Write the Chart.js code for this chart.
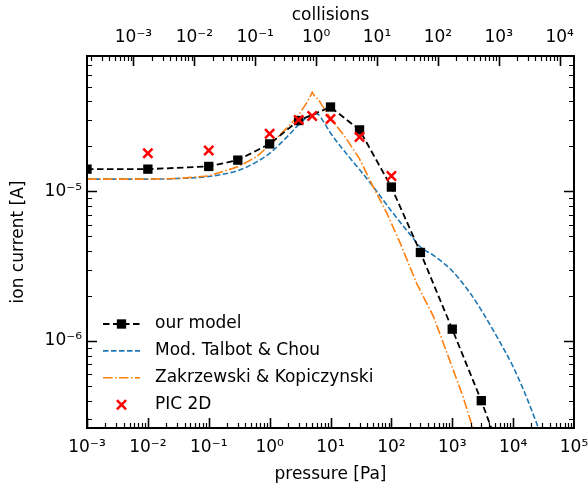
<!DOCTYPE html>
<html lang="en">
<head>
<meta charset="UTF-8">
<title>Ion current vs pressure</title>
<script src="https://cdn.jsdelivr.net/npm/chart.js@4.4.0/dist/chart.umd.min.js"></script>
<style>
  body { margin: 0; background: #fff; }
</style>
</head>
<body>
<canvas id="ionChart" width="588" height="489"></canvas>
<script>
// values: pressure [Pa] -> ion current [A]
const modelPressure = [1e-3, 1e-2, 0.1, 0.3, 1, 3, 10, 30, 100, 300, 1000, 3000, 10000];
const modelCurrent  = [1.41e-5, 1.41e-5, 1.47e-5, 1.62e-5, 2.08e-5, 2.98e-5, 3.67e-5, 2.58e-5, 1.07e-5, 3.91e-6, 1.2e-6, 3.99e-7, 1.05e-7];

const talbotPressure = [1e-3, 3e-3, 1e-2, 3e-2, 0.1, 0.3, 0.6, 1, 2, 3, 4.5, 6, 8, 10, 20, 30, 50, 100, 200, 300, 500, 1000, 2000, 3000, 5000, 1e4, 1.5e4, 2e4, 3e4, 5e4];
const talbotCurrent  = [1.21e-5, 1.21e-5, 1.21e-5, 1.22e-5, 1.26e-5, 1.38e-5, 1.57e-5, 1.8e-5, 2.35e-5, 2.8e-5, 3.2e-5, 3.3e-5, 2.85e-5, 2.46e-5, 1.71e-5, 1.4e-5, 1.08e-5, 7.4e-6, 5.2e-6, 4.25e-6, 3.72e-6, 2.94e-6, 2.07e-6, 1.61e-6, 1.13e-6, 6.73e-7, 4.65e-7, 3.47e-7, 2.2e-7, 1e-7];

const zakPressure = [1e-3, 1e-2, 3e-2, 0.1, 0.3, 0.6, 1, 2, 3, 4.2, 5, 5.7, 6.3, 7, 10, 18, 30, 50, 85, 140, 260, 490, 900, 1500, 2150, 3000];
const zakCurrent  = [1.21e-5, 1.21e-5, 1.22e-5, 1.27e-5, 1.46e-5, 1.7e-5, 2.04e-5, 2.7e-5, 3.25e-5, 4.0e-5, 4.6e-5, 4.25e-5, 4.15e-5, 3.85e-5, 3.1e-5, 2.27e-5, 1.65e-5, 1.08e-5, 7.1e-6, 4.5e-6, 2.43e-6, 1.46e-6, 7.5e-7, 4.25e-7, 2.67e-7, 1.7e-7];

const picPressure = [0.01, 0.1, 1, 3, 5, 10, 30, 100];
const picCurrent  = [1.8e-5, 1.88e-5, 2.43e-5, 3.01e-5, 3.2e-5, 3.05e-5, 2.31e-5, 1.27e-5];

// axis decades
const pressureTicks  = [1e-3, 1e-2, 1e-1, 1e0, 1e1, 1e2, 1e3, 1e4, 1e5];
const collisionTicks = [1e-3, 1e-2, 1e-1, 1e0, 1e1, 1e2, 1e3, 1e4];
const currentTicks   = [1e-6, 1e-5];

const pressureRange = [1e-3, 1e5];
const currentRange  = [2.62e-7, 8.05e-5];
const pressurePerCollision = 5.8;   // top axis offset

const toPoints = (xs, ys) => xs.map((x, i) => ({ x: x, y: ys[i] }));

const SUP = { '-': '\u207B', '0': '\u2070', '1': '\u00B9', '2': '\u00B2', '3': '\u00B3',
  '4': '\u2074', '5': '\u2075', '6': '\u2076', '7': '\u2077', '8': '\u2078', '9': '\u2079' };
function powLabel(v) {
  const e = Math.round(Math.log10(v));
  return '10' + String(e).split('').map(c => SUP[c]).join('');
}

function minorValues(min, max) {
  const out = [];
  for (let e = Math.floor(Math.log10(min)) - 1; e <= Math.ceil(Math.log10(max)); e++) {
    for (let k = 2; k <= 9; k++) {
      const v = k * Math.pow(10, e);
      if (v > min && v < max) out.push(v);
    }
  }
  return out;
}

// keep the plot box fixed: no extra room for overhanging edge labels
function fixBox(size, key) {
  return s => {
    s[key] = size;
    s.paddingLeft = 0; s.paddingRight = 0;
    s.paddingTop = 0; s.paddingBottom = 0;
  };
}

// inward ticks on all four sides + frame
const frameTicks = {
  id: 'frameTicks',
  afterDraw(chart) {
    const { ctx, chartArea: a, scales } = chart;
    ctx.save();
    ctx.strokeStyle = '#000';
    ctx.setLineDash([]);

    function hTicks(scale, values, len, lw) {
      ctx.lineWidth = lw;
      ctx.beginPath();
      values.forEach(v => {
        const px = Math.round(scale.getPixelForValue(v)) + 0.5;
        if (px < a.left || px > a.right) return;
        if (scale.id === 'x') { ctx.moveTo(px, a.bottom); ctx.lineTo(px, a.bottom - len); }
        else { ctx.moveTo(px, a.top); ctx.lineTo(px, a.top + len); }
      });
      ctx.stroke();
    }
    function vTicks(scale, values, len, lw) {
      ctx.lineWidth = lw;
      ctx.beginPath();
      values.forEach(v => {
        const py = Math.round(scale.getPixelForValue(v)) + 0.5;
        if (py < a.top || py > a.bottom) return;
        ctx.moveTo(a.left, py); ctx.lineTo(a.left + len, py);
        ctx.moveTo(a.right, py); ctx.lineTo(a.right - len, py);
      });
      ctx.stroke();
    }

    const x = scales.x, x2 = scales.x2, y = scales.y;
    hTicks(x, pressureTicks, 10, 1.6);
    hTicks(x, minorValues(x.min, x.max), 5, 1.2);
    hTicks(x2, collisionTicks, 10, 1.6);
    hTicks(x2, minorValues(x2.min, x2.max), 5, 1.2);
    vTicks(y, currentTicks, 10, 1.6);
    vTicks(y, minorValues(y.min, y.max), 5, 1.2);

    ctx.lineWidth = 2;
    ctx.strokeRect(a.left, a.top, a.right - a.left, a.bottom - a.top);
    ctx.restore();
  }
};

// legend inside the plot, lower left
const innerLegend = {
  id: 'innerLegend',
  afterDraw(chart) {
    const { ctx, chartArea: a } = chart;
    const x0 = a.left + 16, x1 = a.left + 53, tx = a.left + 68;
    let yy = a.bottom - 104;
    ctx.save();
    ctx.font = '17px "DejaVu Sans"';
    ctx.textBaseline = 'middle';
    ctx.fillStyle = '#000';
    chart.data.datasets.forEach(ds => {
      if (ds.showLine !== false) {
        ctx.strokeStyle = ds.borderColor;
        ctx.lineWidth = ds.borderWidth;
        ctx.setLineDash(ds.borderDash || []);
        ctx.beginPath();
        ctx.moveTo(x0, yy); ctx.lineTo(x1, yy);
        ctx.stroke();
      }
      ctx.setLineDash([]);
      const cx = (x0 + x1) / 2;
      if (ds.pointRadius > 0) {
        const s = Math.SQRT1_2 * ds.pointRadius;
        if (ds.pointStyle === 'rect') {
          ctx.fillStyle = ds.pointBackgroundColor;
          ctx.fillRect(cx - s, yy - s, 2 * s, 2 * s);
        } else {
          ctx.strokeStyle = ds.pointBorderColor;
          ctx.lineWidth = ds.pointBorderWidth;
          ctx.beginPath();
          ctx.moveTo(cx - s, yy - s); ctx.lineTo(cx + s, yy + s);
          ctx.moveTo(cx - s, yy + s); ctx.lineTo(cx + s, yy - s);
          ctx.stroke();
        }
      }
      ctx.fillStyle = '#000';
      ctx.fillText(ds.label, tx, yy);
      yy += 26.9;
    });
    ctx.restore();
  }
};

Chart.defaults.font.family = '"DejaVu Sans", sans-serif';
Chart.defaults.font.size = 17;
Chart.defaults.color = '#000';

const tickOpts = { autoSkip: false, maxRotation: 0, minRotation: 0, callback: v => powLabel(v) };

new Chart(document.getElementById('ionChart'), {
  type: 'line',
  data: {
    datasets: [
      {
        label: 'our model',
        data: toPoints(modelPressure, modelCurrent),
        borderColor: '#000', borderWidth: 1.8, borderDash: [6.5, 3.5],
        tension: 0,
        pointStyle: 'rect', pointRadius: 6.6,
        pointBackgroundColor: '#000', pointBorderColor: '#000', pointBorderWidth: 0,
        clip: 0, order: 1
      },
      {
        label: 'Mod. Talbot & Chou',
        data: toPoints(talbotPressure, talbotCurrent),
        borderColor: '#1f77b4', borderWidth: 1.6, borderDash: [5.5, 2.5],
        cubicInterpolationMode: 'monotone', pointRadius: 0,
        clip: 0, order: 3
      },
      {
        label: 'Zakrzewski & Kopiczynski',
        data: toPoints(zakPressure, zakCurrent),
        borderColor: '#ff7f0e', borderWidth: 1.6, borderDash: [9.6, 2.4, 1.5, 2.4],
        tension: 0, pointRadius: 0,
        clip: 0, order: 2
      },
      {
        label: 'PIC 2D',
        data: toPoints(picPressure, picCurrent),
        showLine: false,
        pointStyle: 'crossRot', pointRadius: 6.5,
        pointBorderColor: '#ff0000', pointBorderWidth: 2.5,
        clip: 0, order: 0
      }
    ]
  },
  options: {
    responsive: false,
    animation: false,
    layout: { padding: { left: 0, right: 14, top: 0, bottom: 0 } },
    plugins: { legend: { display: false }, tooltip: { enabled: false } },
    scales: {
      x: {
        type: 'logarithmic', position: 'bottom',
        min: pressureRange[0], max: pressureRange[1],
        grid: { display: false, drawTicks: false }, border: { display: false },
        ticks: Object.assign({ padding: 9 }, tickOpts),
        afterBuildTicks: s => { s.ticks = pressureTicks.map(v => ({ value: v })); },
        afterFit: fixBox(61, 'height'),
        title: { display: true, text: 'pressure [Pa]', padding: { top: 0, bottom: 4 } }
      },
      x2: {
        type: 'logarithmic', position: 'top',
        min: pressureRange[0] / pressurePerCollision, max: pressureRange[1] / pressurePerCollision,
        grid: { display: false, drawTicks: false }, border: { display: false },
        ticks: Object.assign({ padding: 8 }, tickOpts),
        afterBuildTicks: s => { s.ticks = collisionTicks.map(v => ({ value: v })); },
        afterFit: fixBox(56, 'height'),
        title: { display: true, text: 'collisions', padding: { top: 5, bottom: 0 } }
      },
      y: {
        type: 'logarithmic', position: 'left',
        min: currentRange[0], max: currentRange[1],
        grid: { display: false, drawTicks: false }, border: { display: false },
        ticks: Object.assign({ padding: 5 }, tickOpts),
        afterBuildTicks: s => { s.ticks = currentTicks.map(v => ({ value: v })); },
        afterFit: fixBox(87, 'width'),
        title: { display: true, text: 'ion current [A]', padding: { top: 8, bottom: 0 } }
      }
    }
  },
  plugins: [frameTicks, innerLegend]
});
</script>
</body>
</html>
